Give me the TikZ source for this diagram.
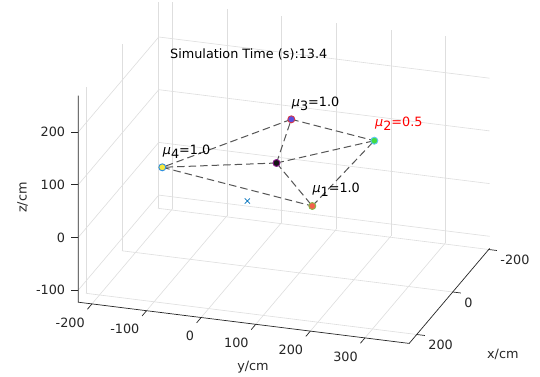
\documentclass[tikz,border=0pt]{standalone}
\usepackage{fontspec}
\setmainfont{DejaVu Sans}
\usetikzlibrary{shapes.misc}
\definecolor{gridgray}{HTML}{DEDEDE}
\definecolor{axisblack}{HTML}{262626}
\definecolor{linkgray}{HTML}{555555}
\definecolor{goalblue}{HTML}{0072BD}
\definecolor{fillone}{HTML}{F2604C}
\definecolor{edgeone}{HTML}{86B84A}
\definecolor{filltwo}{HTML}{42DC42}
\definecolor{edgetwo}{HTML}{5EC6F2}
\definecolor{fillthree}{HTML}{5850E0}
\definecolor{edgethree}{HTML}{D2364A}
\definecolor{fillfour}{HTML}{F6E83E}
\definecolor{edgefour}{HTML}{2E8FE0}
\definecolor{fillcenter}{HTML}{141414}
\definecolor{edgecenter}{HTML}{8C1A8C}
\def\xmin{-2.05}\def\xmax{2.42}
\def\ymin{-2.25}\def\ymax{3.81}
\def\zmin{-1.23}\def\zmax{2.69}
\newcommand{\mulab}[2]{\textit{μ}\raisebox{-4pt}{#1}=#2}

\begin{document}
\begin{tikzpicture}[x=1pt,y=-1pt,font=\fontsize{12.8}{14}\selectfont,
  gridline/.style={gridgray,line width=0.6pt},
  axisline/.style={axisblack,line width=0.7pt},
  ticklab/.style={axisblack,inner sep=0pt},
  link/.style={linkgray,line width=1pt,dash pattern=on 7.5pt off 4pt},
  agent/.style 2 args={circle,inner sep=0pt,minimum size=7pt,line width=0.9pt,fill=#1,draw=#2}]
\useasboundingbox[fill=white] (0,0) rectangle (540,376);

\begin{scope}[shift={(244.7,201.25)},x={(-18pt,-21.25pt)},y={(54.6pt,-6.8pt)},z={(0pt,52.7pt)}]
\foreach \v in {-2,...,3} {
  \draw[gridline] (\xmin,\v,\zmin) -- (\xmax,\v,\zmin);
  \draw[gridline] (\xmin,\v,\zmin) -- (\xmin,\v,\zmax);
}
\foreach \u in {-2,0,2} {
  \draw[gridline] (\u,\ymin,\zmin) -- (\u,\ymax,\zmin);
  \draw[gridline] (\u,\ymin,\zmin) -- (\u,\ymin,\zmax);
}
\foreach \w in {-1,...,2}
  \draw[gridline] (\xmax,\ymin,\w) -- (\xmin,\ymin,\w) -- (\xmin,\ymax,\w);

\coordinate (front) at (\xmax,\ymin,\zmin);
\coordinate (top) at (\xmax,\ymin,\zmax);
\coordinate (right) at (\xmax,\ymax,\zmin);
\coordinate (back) at (\xmin,\ymax,\zmin);
\draw[axisline] (top) -- (front) -- (right) -- (back);

\foreach \w/\t in {-1/-100,0/0,1/100,2/200} {
  \draw[axisline] (\xmax,\ymin,\w) -- ++(-7pt,0pt);
  \path (\xmax,\ymin,\w) ++(-13pt,0pt) node[ticklab,anchor=east] {\t};
}
\foreach \v/\t in {-2/-200,-1/-100,0/0,1/100,2/200,3/300} {
  \draw[axisline] (\xmax,\v,\zmin) -- ++(0.25,0,0);
  \path (\xmax,\v,\zmin) ++(-7pt,-18.5pt) node[ticklab,anchor=east] {\t};
}
\foreach \u/\t in {-2/-200,0/0,2/200} {
  \draw[axisline] (\u,\ymax,\zmin) -- ++(0,0.15,0);
  \path (\u,\ymax,\zmin) ++(11.5pt,-10.5pt) node[ticklab,anchor=west] {\t};
}
\end{scope}

\node[axisblack,rotate=90] (zlab) at (22.5,197.5) {z/cm};
\node[axisblack] (ylab) at (253,367.3) {y/cm};
\node[axisblack] (xlab) at (502.8,354) {x/cm};
\node[anchor=base west,inner sep=0pt] (simtime) at (170,58.3) {Simulation Time (s):13.4};

\coordinate (pc) at (276.5,163);
\coordinate (p1) at (312.3,206);
\coordinate (p2) at (374.3,140.7);
\coordinate (p3) at (291.3,119.3);
\coordinate (p4) at (162.3,167.3);
\foreach \a/\b in {pc/p1,pc/p2,pc/p3,pc/p4,p3/p2,p3/p4,p4/p1,p1/p2}
  \draw[link] (\a) -- (\b);

\node[cross out,draw=goalblue,line width=0.7pt,minimum size=4.5pt,inner sep=0pt] (goal) at (247.3,201) {};
\node[agent={fillcenter}{edgecenter}] (mc) at (pc) {};
\node[agent={fillone}{edgeone}] (m1) at (p1) {};
\node[agent={filltwo}{edgetwo}] (m2) at (p2) {};
\node[agent={fillthree}{edgethree}] (m3) at (p3) {};
\node[agent={fillfour}{edgefour}] (m4) at (p4) {};

\node[anchor=base west,inner sep=0pt] (lab1) at (312.3,192) {\mulab{1}{1.0}};
\node[anchor=base west,inner sep=0pt,red] (lab2) at (375,126.7) {\mulab{2}{0.5}};
\node[anchor=base west,inner sep=0pt] (lab3) at (291.7,106) {\mulab{3}{1.0}};
\node[anchor=base west,inner sep=0pt] (lab4) at (162.7,154) {\mulab{4}{1.0}};
\end{tikzpicture}
\end{document}
